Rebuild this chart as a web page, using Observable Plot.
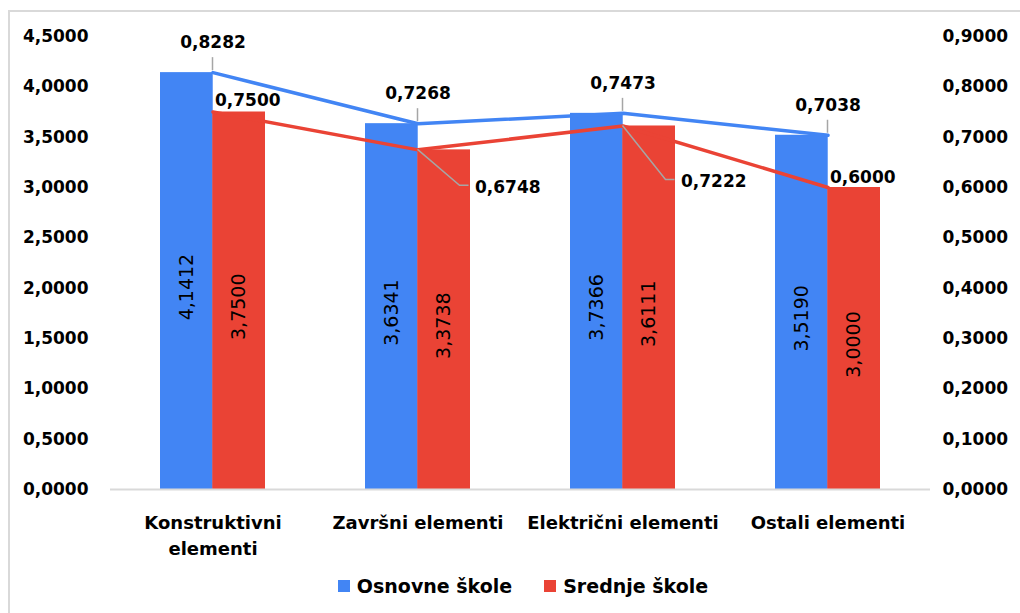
<!DOCTYPE html>
<html><head><meta charset="utf-8">
<script src="https://cdn.jsdelivr.net/npm/d3@7"></script>
<script src="https://cdn.jsdelivr.net/npm/@observablehq/plot@0.6"></script>
<style>
html,body{margin:0;padding:0;background:#fff;overflow:hidden;font-family:"DejaVu Sans",sans-serif}
#frame{position:absolute;left:8px;top:10px;width:1100px;height:700px;border:2px solid #d9d9d9;box-sizing:border-box}
#chart{position:absolute;left:0;top:0}
#legend{position:absolute;left:0;top:575px;width:1046px;display:flex;justify-content:center;gap:32px;font:bold 19px "DejaVu Sans",sans-serif;color:#000}
#legend span.item{display:flex;align-items:center;gap:7px}
#legend i{display:inline-block;width:12px;height:12px}
</style></head>
<body>
<div id="frame"></div>
<div id="chart"></div>
<div id="legend"></div>
<script>
const categories = ["Konstruktivni elementi", "Završni elementi", "Električni elementi", "Ostali elementi"];
const osnovne = [4.1412, 3.6341, 3.7366, 3.5190];
const srednje = [3.7500, 3.3738, 3.6111, 3.0000];
const osnovneLine = [0.8282, 0.7268, 0.7473, 0.7038];
const srednjeLine = [0.7500, 0.6748, 0.7222, 0.6000];
const leftTicks = [0, 0.5, 1, 1.5, 2, 2.5, 3, 3.5, 4, 4.5];
const rightTicks = [0, 0.1, 0.2, 0.3, 0.4, 0.5, 0.6, 0.7, 0.8, 0.9];
const seriesNames = ["Osnovne škole", "Srednje škole"];

const BLUE = "#4285F4", RED = "#EA4335";
const ratio = 4.5 / 0.9; // right axis -> left axis units
const loc = d3.formatLocale({decimal: ",", thousands: ".", grouping: [3], currency: ["", ""]});
const f4 = loc.format(".4f");

const rows = categories.map((c, i) => ({c, i, osn: osnovne[i], sre: srednje[i], osnL: osnovneLine[i] * ratio, sreL: srednjeLine[i] * ratio, osnT: osnovneLine[i], sreT: srednjeLine[i]}));

// label placement for the red line labels (pixel offsets from the point)
const redPlacement = [
  {i: 0, dx: 2, dy: -11, leader: false},
  {i: 1, dx: 57, dy: 38, leader: true},
  {i: 2, dx: 58, dy: 56, leader: true},
  {i: 3, dx: 2, dy: -10, leader: false}
];

const W = 1020, H = 560;
const bandInner = 0.49, bandOuter = 0.245;
const BW = (W - 110 - 90) / 4 * (1 - bandInner);

function leaders(index, scales) {
  const x = scales.x, y = scales.y;
  let bw = x.bandwidth;
  bw = typeof bw === "function" ? bw() : (bw || 0);
  const g = d3.create("svg:g").attr("fill", "none").attr("stroke", "#a6a6a6").attr("stroke-width", 1.5);
  rows.forEach(r => {
    const cx = x(r.c) + bw / 2;
    const py = y(r.osnL);
    g.append("path").attr("d", `M${cx},${py - 2}V${py - 15}`);
  });
  redPlacement.filter(p => p.leader).forEach(p => {
    const r = rows[p.i];
    const cx = x(r.c) + bw / 2;
    const py = y(r.sreL);
    g.append("path").attr("d", `M${cx},${py}L${cx + p.dx - 15},${py + p.dy - 2}H${cx + p.dx - 6}`);
  });
  return g.node();
}

const textBase = {fontFamily: "DejaVu Sans", fill: "#000"};

const marks = [
  Plot.barY(rows, {x: "c", y: "osn", fill: BLUE, insetRight: BW / 2}),
  Plot.barY(rows, {x: "c", y: "sre", fill: RED, insetLeft: BW / 2}),
  Plot.ruleY([0], {stroke: "#d9d9d9", strokeWidth: 2}),
  Plot.text(rows, {x: "c", y: d => d.osn / 2, text: d => f4(d.osn), rotate: -90, dx: -BW / 4, dy: 6, fontSize: 19, ...textBase}),
  Plot.text(rows, {x: "c", y: d => d.sre / 2, text: d => f4(d.sre), rotate: -90, dx: BW / 4, dy: 6, fontSize: 19, ...textBase}),
  Plot.line(rows, {x: "c", y: "osnL", stroke: BLUE, strokeWidth: 3.5}),
  Plot.line(rows, {x: "c", y: "sreL", stroke: RED, strokeWidth: 3.5}),
  leaders,
  Plot.text(rows, {x: "c", y: "osnL", text: d => f4(d.osnT), dy: -30, fontSize: 17, fontWeight: "bold", ...textBase}),
  ...redPlacement.map(p => Plot.text(rows.filter(r => r.i === p.i), {x: "c", y: "sreL", text: d => f4(d.sreT), dx: p.dx, dy: p.dy, textAnchor: "start", fontSize: 17, fontWeight: "bold", ...textBase})),
  Plot.axisY({anchor: "left", ticks: leftTicks, tickFormat: f4, tickSize: 0, tickPadding: 22, fontSize: 17, fontWeight: "bold", ...textBase}),
  Plot.axisY({anchor: "right", ticks: rightTicks.map(v => v * ratio), tickFormat: v => f4(v / ratio), tickSize: 0, tickPadding: 12, fontSize: 17, fontWeight: "bold", ...textBase}),
  Plot.axisX({anchor: "bottom", tickSize: 0, tickPadding: 21, tickFormat: d => d.length > 20 ? d.replace(" ", "\n") : d, lineHeight: 1.45, fontSize: 18, fontWeight: "bold", ...textBase})
];

const chart = Plot.plot({
  width: W, height: H,
  marginLeft: 110, marginRight: 90, marginTop: 36, marginBottom: H - 489,
  style: {fontFamily: "DejaVu Sans", fontSize: "17px", color: "#000", background: "transparent", overflow: "visible"},
  x: {domain: categories, paddingInner: bandInner, paddingOuter: bandOuter, label: null},
  y: {domain: [0, 4.5], label: null},
  marks
});
document.getElementById("chart").appendChild(chart);

const legend = document.getElementById("legend");
[[seriesNames[0], BLUE], [seriesNames[1], RED]].forEach(([n, c]) => {
  const s = document.createElement("span");
  s.className = "item";
  s.innerHTML = `<i style="background:${c}"></i>${n}`;
  legend.appendChild(s);
});
</script>
</body></html>
